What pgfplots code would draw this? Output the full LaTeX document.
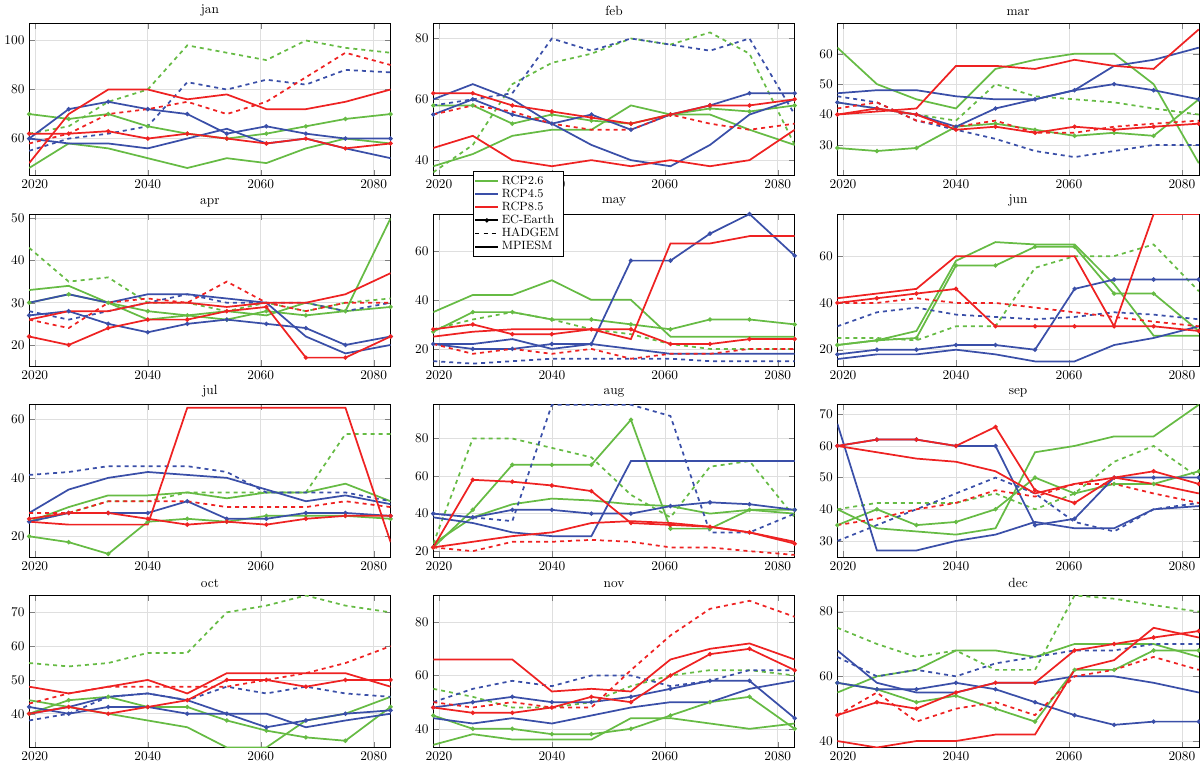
\documentclass[border=0pt]{standalone}
\usepackage{pgfplots}
\usepackage{pgfplotstable}
\pgfplotsset{compat=1.18}
\usepgfplotslibrary{groupplots}
\definecolor{cg}{RGB}{102,187,68}
\definecolor{cb}{RGB}{58,79,168}
\definecolor{cr}{RGB}{238,34,34}
\newcommand\mk[1]{\pgfplotstabletranspose[colnames from=name]{#1}{\rawtab}}
\pgfplotstableread{
name 2019 2026 2033 2040 2047 2054 2061 2068 2075 2083
ge 70 68 70 65 62 60 62 65 68 70
gh 62 65 75 80 98 95 92 100 97 95
gm 48 58 56 52 48 52 50 56 60 58
be 60 72 75 72 70 62 65 62 60 60
bh 55 60 62 65 83 80 84 82 88 87
bm 60 58 58 56 60 64 58 60 56 52
re 62 62 63 60 62 60 58 60 56 58
rh 58 62 70 72 75 70 75 85 95 90
rm 50 70 80 80 76 78 72 72 75 80
}\rawtab\mk{\tjan}
\pgfplotstableread{
name 2019 2026 2033 2040 2047 2054 2061 2068 2075 2083
ge 58 58 52 55 53 52 55 57 56 58
gh 36 45 65 72 75 80 78 82 75 45
gm 38 42 48 50 50 58 55 55 50 45
be 55 60 55 52 55 50 55 58 62 62
bh 58 60 62 80 76 80 78 76 80 55
bm 60 65 60 52 45 40 38 45 55 60
re 62 62 58 56 54 52 55 58 58 60
rh 55 58 56 52 50 50 55 52 50 52
rm 44 48 40 38 40 38 40 38 40 50
}\rawtab\mk{\tfeb}
\pgfplotstableread{
name 2019 2026 2033 2040 2047 2054 2061 2068 2075 2083
ge 29 28 29 36 37 35 33 34 33 45
gh 44 42 40 38 50 46 45 44 42 40
gm 62 50 45 42 55 58 60 60 50 24
be 44 42 40 36 42 45 48 50 48 45
bh 46 44 38 35 32 28 26 28 30 30
bm 47 48 48 46 45 45 48 56 58 62
re 40 42 40 35 36 34 36 35 36 37
rh 42 44 38 36 38 34 34 36 37 38
rm 40 41 42 56 56 55 58 56 55 68
}\rawtab\mk{\tmar}
\pgfplotstableread{
name 2019 2026 2033 2040 2047 2054 2061 2068 2075 2083
ge 30 32 30 28 27 26 28 27 28 29
gh 43 35 36 30 30 28 30 28 30 31
gm 33 34 30 26 27 28 27 30 28 50
be 27 28 25 23 25 26 25 24 20 22
bh 28 26 28 30 32 30 30 30 28 30
bm 30 32 30 32 32 31 30 22 18 20
re 22 20 24 26 26 28 29 17 17 22
rh 26 24 30 31 30 35 30 28 30 30
rm 26 28 28 30 30 29 30 30 32 37
}\rawtab\mk{\tapr}
\pgfplotstableread{
name 2019 2026 2033 2040 2047 2054 2061 2068 2075 2083
ge 27 35 35 32 32 30 28 32 32 30
gh 28 32 35 32 28 26 22 20 20 20
gm 35 42 42 48 40 40 25 25 25 25
be 22 20 20 22 22 56 56 67 75 58
bh 15 14 15 16 16 16 16 15 15 15
bm 22 22 24 20 22 20 18 18 18 18
re 28 30 26 26 28 28 22 22 24 24
rh 22 18 20 18 20 16 18 18 20 20
rm 25 27 28 28 28 24 63 63 66 66
}\rawtab\mk{\tmay}
\pgfplotstableread{
name 2019 2026 2033 2040 2047 2054 2061 2068 2075 2083
ge 22 24 25 56 56 64 64 44 44 28
gh 25 25 24 30 30 55 60 60 65 45
gm 22 24 28 58 66 65 65 48 26 26
be 18 20 20 22 22 20 46 50 50 50
bh 30 36 38 35 34 33 34 36 35 33
bm 16 18 18 20 18 15 15 22 25 30
re 40 42 44 46 30 30 30 30 30 28
rh 40 40 42 40 40 38 36 34 32 30
rm 42 44 46 60 60 60 60 30 78 78
}\rawtab\mk{\tjun}
\pgfplotstableread{
name 2019 2026 2033 2040 2047 2054 2061 2068 2075 2083
ge 20 18 14 25 26 25 27 27 27 26
gh 25 28 32 32 35 35 35 35 55 55
gm 25 30 34 34 35 33 35 35 38 32
be 25 28 28 28 32 26 26 28 28 27
bh 41 42 44 44 44 42 35 35 35 32
bm 28 36 40 42 41 40 36 32 34 31
re 26 28 28 26 24 25 24 26 27 27
rh 28 28 32 32 32 30 30 30 32 30
rm 25 24 24 24 64 64 64 64 64 18
}\rawtab\mk{\tjul}
\pgfplotstableread{
name 2019 2026 2033 2040 2047 2054 2061 2068 2075 2083
ge 22 42 66 66 66 90 32 32 42 42
gh 24 80 80 75 70 50 38 65 68 38
gm 24 38 45 48 47 45 44 40 42 40
be 40 38 42 42 40 40 44 46 45 42
bh 40 38 36 98 98 98 92 30 30 40
bm 38 35 30 28 28 68 68 68 68 68
re 22 58 57 55 52 35 34 33 30 24
rh 22 20 25 25 26 25 22 22 20 18
rm 22 25 28 30 35 36 35 33 30 25
}\rawtab\mk{\taug}
\pgfplotstableread{
name 2019 2026 2033 2040 2047 2054 2061 2068 2075 2083
ge 35 40 35 36 40 50 45 48 48 52
gh 40 42 42 42 45 40 45 55 60 50
gm 40 34 33 32 34 58 60 63 63 73
be 60 62 62 60 60 35 37 50 50 50
bh 30 35 40 45 50 45 36 33 40 42
bm 67 27 27 30 32 36 34 34 40 41
re 60 62 62 60 66 46 42 50 52 48
rh 35 37 40 42 46 44 48 48 45 42
rm 60 58 56 55 52 45 48 50 48 45
}\rawtab\mk{\tsep}
\pgfplotstableread{
name 2019 2026 2033 2040 2047 2054 2061 2068 2075 2083
ge 40 44 45 42 42 38 35 33 32 42
gh 55 54 55 58 58 70 72 75 72 70
gm 44 42 40 38 36 30 30 38 40 45
be 42 40 42 42 40 40 36 38 40 41
bh 38 40 45 46 44 48 46 48 46 45
bm 40 42 45 46 44 40 40 36 38 40
re 40 42 40 42 44 50 50 48 50 50
rh 43 46 48 48 48 48 50 52 55 60
rm 48 46 48 50 46 52 52 52 52 48
}\rawtab\mk{\toct}
\pgfplotstableread{
name 2019 2026 2033 2040 2047 2054 2061 2068 2075 2083
ge 45 40 40 38 38 40 45 50 52 40
gh 55 52 48 48 50 56 60 62 62 60
gm 34 38 36 36 36 44 44 42 40 42
be 48 50 52 50 50 52 55 58 58 44
bh 50 55 58 56 60 60 56 58 62 62
bm 44 42 44 42 45 48 50 50 55 58
re 48 46 46 48 52 50 60 68 70 62
rh 50 48 50 48 48 62 75 85 88 82
rm 66 66 66 54 55 54 66 70 72 66
}\rawtab\mk{\tnov}
\pgfplotstableread{
name 2019 2026 2033 2040 2047 2054 2061 2068 2075 2083
ge 58 56 52 54 50 46 62 62 68 68
gh 75 70 66 68 62 62 85 84 82 80
gm 55 60 62 68 68 66 70 70 70 66
be 58 56 56 58 56 52 48 45 46 46
bh 66 60 62 60 64 66 68 68 70 70
bm 68 58 55 55 58 58 60 60 58 55
re 48 52 50 55 58 58 68 70 72 74
rh 48 55 46 50 52 48 60 62 66 62
rm 40 38 40 40 42 42 62 65 75 72
}\rawtab\mk{\tdec}
\pgfplotsset{ec/.style={solid,mark=*,mark size=0.9pt},hd/.style={dashed},mp/.style={solid}}
\newcommand\panel[1]{%
\addplot[cg,ec] table[x=colnames,y=ge]{#1};
\addplot[cg,hd] table[x=colnames,y=gh]{#1};
\addplot[cg,mp] table[x=colnames,y=gm]{#1};
\addplot[cb,ec] table[x=colnames,y=be]{#1};
\addplot[cb,hd] table[x=colnames,y=bh]{#1};
\addplot[cb,mp] table[x=colnames,y=bm]{#1};
\addplot[cr,ec] table[x=colnames,y=re]{#1};
\addplot[cr,hd] table[x=colnames,y=rh]{#1};
\addplot[cr,mp] table[x=colnames,y=rm]{#1};}
\begin{document}
\begin{tikzpicture}
\begin{groupplot}[group style={group size=3 by 4,horizontal sep=32pt,vertical sep=29pt},
 scale only axis,width=271pt,height=114pt,xmin=2019,xmax=2083,
 xtick={2020,2040,2060,2080},xticklabel style={/pgf/number format/1000 sep={}},
 grid=major,grid style={gray!25},every axis plot/.append style={line width=1.3pt},
 title style={yshift=-4pt},tick align=inside]
\nextgroupplot[title=jan,ymin=45,ymax=107,ytick={60,80,100}]\panel{\tjan}
\nextgroupplot[title=feb,ymin=35,ymax=85,ytick={40,60,80}]\panel{\tfeb}
\nextgroupplot[title=mar,ymin=20,ymax=70,ytick={30,40,50,60}]\panel{\tmar}
\nextgroupplot[title=apr,ymin=15,ymax=51,ytick={20,30,40,50}]\panel{\tapr}
\nextgroupplot[title=may,ymin=13,ymax=75,ytick={20,40,60},
 legend style={at={(0.11,1.28)},anchor=north west,font=\small,cells={anchor=west},inner sep=1pt,row sep=-2pt},legend cell align=left]
\addlegendimage{cg,line width=1.3pt}\addlegendentry{RCP2.6}
\addlegendimage{cb,line width=1.3pt}\addlegendentry{RCP4.5}
\addlegendimage{cr,line width=1.3pt}\addlegendentry{RCP8.5}
\addlegendimage{black,line width=1.3pt,mark=*,mark size=0.9pt}\addlegendentry{EC-Earth}
\addlegendimage{black,line width=1.3pt,dashed}\addlegendentry{HADGEM}
\addlegendimage{black,line width=1.3pt}\addlegendentry{MPIESM}
\panel{\tmay}
\nextgroupplot[title=jun,ymin=13,ymax=78,ytick={20,40,60}]\panel{\tjun}
\nextgroupplot[title=jul,ymin=13,ymax=65,ytick={20,40,60}]\panel{\tjul}
\nextgroupplot[title=aug,ymin=17,ymax=98,ytick={20,40,60,80}]\panel{\taug}
\nextgroupplot[title=sep,ymin=25,ymax=73,ytick={30,40,50,60,70}]\panel{\tsep}
\nextgroupplot[title=oct,ymin=30,ymax=75,ytick={40,50,60,70}]\panel{\toct}
\nextgroupplot[title=nov,ymin=33,ymax=90,ytick={40,60,80}]\panel{\tnov}
\nextgroupplot[title=dec,ymin=38,ymax=85,ytick={40,60,80}]\panel{\tdec}
\end{groupplot}
\end{tikzpicture}
\end{document}
